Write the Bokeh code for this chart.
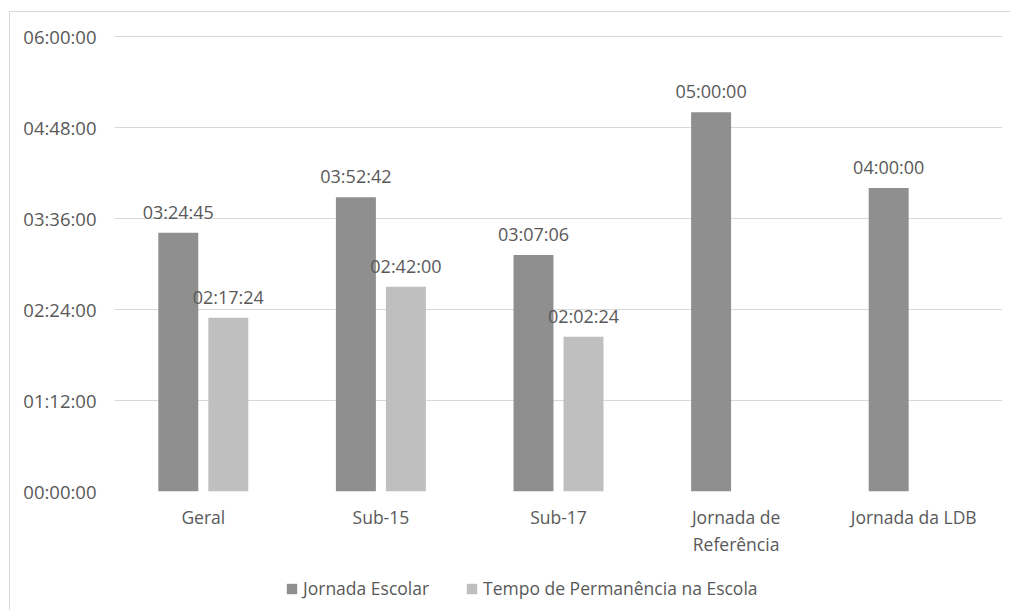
from bokeh.plotting import figure
from bokeh.models import (ColumnDataSource, FactorRange, FixedTicker, Legend, LegendItem,
                          CategoricalAxis, Range1d)
from bokeh.layouts import column
from bokeh.transform import dodge
from bokeh.core.properties import value
from bokeh.embed import file_html
from bokeh.resources import INLINE

# ---------------- data ----------------
categories = ["Geral", "Sub-15", "Sub-17", "Jornada de Referência", "Jornada da LDB"]
label_line1 = ["Geral", "Sub-15", "Sub-17", "Jornada de", "Jornada da LDB"]
label_line2 = [" ", "  ", "   ", "Referência", "    "]
jornada_escolar = ["03:24:45", "03:52:42", "03:07:06", "05:00:00", "04:00:00"]
tempo_permanencia = ["02:17:24", "02:42:00", "02:02:24", None, None]
series_names = ["Jornada Escolar", "Tempo de Permanência na Escola"]
y_ticks = [0, 4320, 8640, 12960, 17280, 21600]
y_tick_labels = ["00:00:00", "01:12:00", "02:24:00", "03:36:00", "04:48:00", "06:00:00"]


def to_seconds(s):
    h, m, sec = (int(v) for v in s.split(":"))
    return h * 3600 + m * 60 + sec


FONT = "Open Sans"
FS = "18px"
TEXT_COLOR = "#595959"
DARK = "#8f8f8f"
LIGHT = "#bfbfbf"
GRID = "#d9d9d9"
series_colors = [DARK, LIGHT]

src_a = ColumnDataSource(dict(
    cat=categories,
    val=[to_seconds(v) for v in jornada_escolar],
    lab=jornada_escolar,
))
idx_b = [i for i, v in enumerate(tempo_permanencia) if v is not None]
src_b = ColumnDataSource(dict(
    cat=[categories[i] for i in idx_b],
    val=[to_seconds(tempo_permanencia[i]) for i in idx_b],
    lab=[tempo_permanencia[i] for i in idx_b],
))

# ---------------- main chart ----------------
p = figure(width=1000, height=546, x_range=FactorRange(*categories),
           y_range=(0, 21640), output_backend="svg", toolbar_location=None,
           x_axis_location=None,
           min_border_left=104, min_border_right=8, min_border_top=23,
           min_border_bottom=66)
p.outline_line_color = None
p.background_fill_color = "white"
p.border_fill_color = "white"

off = 0.1408
bw = 0.225
p.vbar(x=dodge("cat", -off, range=p.x_range), top="val", width=bw,
       source=src_a, color=DARK, line_color=None)
p.vbar(x=dodge("cat", off, range=p.x_range), top="val", width=bw,
       source=src_b, color=LIGHT, line_color=None)

for src, d in ((src_a, -off), (src_b, off)):
    p.text(x=dodge("cat", d, range=p.x_range), y="val", text="lab", source=src,
           text_align="center", text_baseline="alphabetic", y_offset=-21,
           text_font=value(FONT), text_font_size=FS, text_color=TEXT_COLOR)

p.yaxis.ticker = FixedTicker(ticks=y_ticks)
p.yaxis.major_label_overrides = {t: l for t, l in zip(y_ticks, y_tick_labels)}
p.yaxis.axis_line_color = None
p.yaxis.major_tick_line_color = None
p.yaxis.minor_tick_line_color = None
p.yaxis.major_tick_out = 0
p.yaxis.major_label_standoff = 18
p.yaxis.major_label_text_font = FONT
p.yaxis.major_label_text_font_size = "18.5px"
p.yaxis.major_label_text_color = TEXT_COLOR

# category labels on two lines (two categorical axes on parallel ranges)
p.extra_x_ranges = {"l1": FactorRange(*label_line1), "l2": FactorRange(*label_line2)}
common = dict(axis_line_color=None, major_tick_line_color=None,
              major_tick_out=0, major_tick_in=0,
              major_label_text_font=FONT, major_label_text_font_size="17.5px",
              major_label_text_color=TEXT_COLOR)
p.add_layout(CategoricalAxis(x_range_name="l1", major_label_standoff=13, **common), "below")
p.add_layout(CategoricalAxis(x_range_name="l2", major_label_standoff=0, **common), "below")

p.xgrid.grid_line_color = None
p.ygrid.grid_line_color = GRID
p.ygrid.grid_line_width = 1

# ---------------- legend strip ----------------
lg = figure(width=1000, height=52, output_backend="svg", toolbar_location=None,
            x_range=Range1d(0, 1), y_range=Range1d(0, 1),
            x_axis_location=None, y_axis_location=None,
            min_border=0, min_border_left=0, min_border_right=0,
            min_border_top=0, min_border_bottom=0)
lg.outline_line_color = None
lg.grid.visible = False
lg.background_fill_color = "white"
lg.border_fill_color = "white"
rends = [lg.vbar(x=[-5], top=[-5], bottom=[-6], width=0.1, color=c, line_color=None)
         for c in series_colors]
legend = Legend(items=[LegendItem(label=n, renderers=[r]) for n, r in zip(series_names, rends)],
                orientation="horizontal", location=(171, 10),
                glyph_width=13, glyph_height=13, label_standoff=5, spacing=36,
                padding=0, margin=0, border_line_color=None,
                background_fill_alpha=0,
                label_text_font=FONT, label_text_font_size="17.5px",
                label_text_color=TEXT_COLOR, label_height=20)
lg.add_layout(legend)

layout = column(p, lg, spacing=0)
layout.styles = {"margin-left": "9px", "margin-top": "11px",
                 "border-left": "1px solid #d9d9d9", "border-top": "1px solid #d9d9d9"}

open("out.html", "w").write(file_html(layout, INLINE))
